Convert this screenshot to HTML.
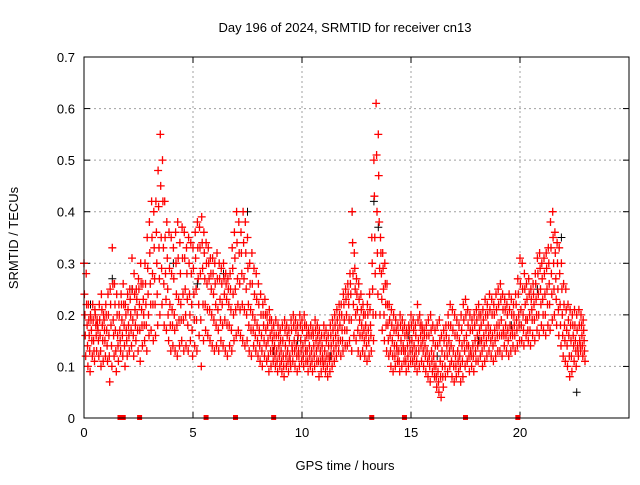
<!DOCTYPE html>
<html><head><meta charset="utf-8">
<style>
body{margin:0;background:#fff;}
svg text{font-family:"Liberation Sans",sans-serif;font-size:13px;fill:#000;}
</style></head>
<body>
<svg id="chart" width="640" height="480" xmlns="http://www.w3.org/2000/svg">
<rect width="640" height="480" fill="#fff"/>
<g id="grid"></g>
<g id="ticks"></g>
<g id="pts"></g>
<rect x="84" y="57" width="545" height="361" fill="none" stroke="#000" stroke-width="1"/>
<text x="345" y="32" text-anchor="middle">Day 196 of 2024, SRMTID for receiver cn13</text>
<text x="345" y="470" text-anchor="middle">GPS time / hours</text>
<text x="18" y="238" text-anchor="middle" transform="rotate(-90 18 238)">SRMTID / TECUs</text>
</svg>
<script>
const xTicks=[0,5,10,15,20];
const yTicks=[0,0.1,0.2,0.3,0.4,0.5,0.6,0.7];
const yTickLabels=["0","0.1","0.2","0.3","0.4","0.5","0.6","0.7"];
const hiVals=[.30,.28,.22,.20,.22,.21,.19,.22,.24,.20,
.22,.24,.25,.33,.26,.24,.22,.24,.26,.22,
.24,.25,.31,.28,.25,.27,.30,.26,.30,.35,
.38,.42,.40,.42,.48,.55,.50,.42,.38,.36,
.35,.33,.36,.38,.34,.37,.36,.33,.35,.34,
.33,.36,.38,.37,.39,.36,.34,.33,.31,.31,
.30,.32,.30,.29,.30,.28,.27,.28,.33,.36,
.40,.38,.36,.40,.38,.35,.30,.32,.29,.28,
.26,.24,.22,.23,.20,.21,.19,.18,.19,.18,
.17,.18,.19,.18,.17,.19,.20,.19,.18,.20,
.19,.20,.18,.17,.18,.17,.19,.18,.17,.16,
.18,.17,.16,.18,.19,.20,.21,.22,.22,.24,
.25,.26,.28,.40,.32,.27,.26,.24,.22,.20,
.22,.24,.35,.50,.61,.55,.35,.32,.30,.26,
.22,.21,.20,.19,.18,.20,.19,.18,.17,.18,
.20,.19,.18,.22,.20,.18,.17,.18,.19,.20,
.18,.17,.18,.19,.16,.17,.18,.20,.22,.21,
.20,.19,.18,.20,.22,.23,.21,.20,.19,.20,
.21,.22,.20,.21,.23,.22,.24,.23,.22,.24,
.25,.26,.24,.23,.22,.24,.23,.22,.24,.27,
.31,.30,.28,.26,.27,.25,.26,.28,.31,.32,
.30,.31,.32,.33,.38,.40,.36,.34,.33,.30,
.26,.25,.22,.21,.20,.21,.20,.21,.20,.19];
const uMidVals=[.24,.22,.19,.19,.19,.20,.18,.19,.21,.19,
.20,.20,.22,.26,.22,.20,.20,.22,.22,.20,
.21,.23,.25,.24,.23,.25,.26,.23,.26,.29,
.32,.35,.33,.36,.41,.45,.42,.35,.31,.29,
.28,.27,.30,.31,.28,.31,.31,.28,.30,.28,
.29,.31,.33,.33,.34,.32,.30,.30,.28,.28,
.26,.27,.27,.26,.27,.26,.25,.25,.29,.31,
.34,.32,.32,.34,.32,.29,.26,.26,.24,.23,
.22,.20,.20,.20,.18,.19,.17,.16,.16,.16,
.15,.15,.17,.16,.15,.17,.18,.17,.16,.18,
.17,.18,.16,.16,.16,.16,.17,.16,.15,.14,
.16,.15,.14,.16,.17,.18,.19,.20,.20,.22,
.23,.24,.26,.34,.29,.24,.23,.21,.20,.18,
.20,.21,.30,.43,.51,.47,.32,.29,.26,.22,
.19,.18,.17,.17,.16,.18,.17,.16,.16,.17,
.18,.17,.16,.19,.18,.17,.16,.16,.16,.17,
.15,.14,.14,.15,.13,.15,.16,.18,.18,.17,
.16,.16,.15,.17,.19,.20,.18,.17,.17,.18,
.19,.20,.18,.19,.20,.20,.21,.20,.20,.21,
.22,.23,.21,.21,.20,.21,.20,.20,.22,.24,
.26,.25,.25,.23,.24,.23,.24,.26,.28,.29,
.27,.28,.29,.30,.33,.35,.32,.30,.28,.25,
.22,.21,.19,.18,.18,.18,.17,.18,.18,.17];
const midVals=[.20,.18,.16,.17,.15,.18,.17,.16,.18,.17,
.17,.16,.18,.19,.17,.16,.17,.19,.18,.17,
.18,.20,.19,.21,.20,.22,.21,.20,.22,.24,
.26,.28,.27,.30,.33,.35,.33,.28,.25,.22,
.21,.20,.24,.23,.22,.24,.25,.23,.24,.22,
.24,.25,.27,.28,.29,.27,.26,.27,.25,.24,
.22,.21,.23,.22,.24,.23,.22,.21,.24,.25,
.27,.26,.28,.27,.25,.22,.21,.20,.19,.18,
.17,.16,.18,.17,.15,.16,.15,.14,.13,.14,
.13,.12,.14,.13,.12,.14,.15,.14,.13,.15,
.14,.15,.13,.14,.13,.14,.15,.14,.13,.12,
.13,.12,.12,.14,.15,.16,.17,.18,.17,.19,
.20,.22,.24,.28,.25,.21,.19,.18,.17,.16,
.17,.18,.25,.35,.40,.38,.28,.25,.22,.18,
.16,.15,.14,.14,.13,.15,.14,.13,.14,.15,
.15,.14,.13,.15,.16,.15,.14,.13,.12,.13,
.12,.10,.09,.11,.10,.12,.14,.15,.14,.13,
.12,.13,.12,.14,.15,.16,.14,.13,.14,.15,
.16,.17,.15,.16,.17,.18,.17,.16,.17,.18,
.18,.19,.17,.18,.17,.18,.17,.18,.19,.20,
.21,.20,.22,.19,.20,.21,.22,.23,.24,.25,
.23,.24,.25,.26,.28,.30,.27,.25,.22,.20,
.18,.17,.16,.15,.16,.15,.14,.15,.16,.15];
const lMidVals=[.16,.14,.13,.15,.13,.16,.15,.13,.15,.15,
.14,.12,.14,.16,.13,.14,.15,.16,.14,.15,
.16,.17,.16,.18,.17,.17,.18,.18,.18,.20,
.22,.22,.22,.24,.27,.29,.26,.23,.20,.18,
.18,.17,.18,.19,.19,.19,.20,.18,.20,.17,
.19,.19,.22,.19,.22,.22,.21,.21,.20,.19,
.18,.17,.19,.18,.19,.18,.18,.17,.20,.21,
.22,.21,.22,.21,.20,.18,.17,.17,.16,.15,
.14,.13,.15,.14,.12,.13,.13,.12,.11,.12,
.11,.10,.12,.11,.11,.13,.13,.12,.12,.13,
.12,.13,.11,.12,.11,.12,.13,.11,.11,.11,
.11,.10,.11,.12,.13,.14,.15,.15,.15,.17,
.17,.19,.19,.22,.20,.17,.16,.16,.15,.14,
.15,.16,.20,.28,.32,.29,.23,.20,.18,.15,
.13,.12,.12,.13,.11,.13,.13,.11,.12,.13,
.13,.12,.11,.13,.14,.13,.12,.11,.10,.11,
.10,.08,.07,.08,.08,.10,.12,.13,.11,.10,
.10,.11,.10,.11,.13,.14,.12,.12,.12,.13,
.14,.15,.13,.14,.15,.16,.15,.14,.15,.16,
.16,.16,.16,.16,.15,.16,.16,.16,.17,.18,
.18,.17,.19,.17,.17,.19,.19,.20,.20,.22,
.20,.20,.22,.22,.24,.25,.23,.21,.18,.16,
.15,.14,.12,.12,.14,.13,.13,.14,.14,.13];
const loVals=[.12,.10,.09,.12,.11,.13,.12,.10,.11,.12,
.11,.07,.10,.12,.09,.11,.13,.12,.10,.12,
.13,.14,.12,.15,.13,.11,.14,.15,.13,.16,
.17,.15,.16,.18,.20,.22,.18,.17,.15,.13,
.14,.13,.12,.14,.15,.13,.14,.13,.15,.12,
.14,.13,.16,.10,.15,.17,.16,.15,.14,.13,
.14,.13,.15,.14,.13,.12,.14,.13,.15,.16,
.17,.16,.15,.14,.15,.13,.12,.14,.13,.12,
.11,.10,.12,.11,.09,.10,.11,.10,.09,.10,
.09,.08,.10,.09,.10,.11,.10,.09,.10,.11,
.10,.11,.09,.10,.09,.10,.11,.08,.09,.10,
.09,.08,.09,.10,.11,.12,.13,.12,.13,.14,
.14,.15,.13,.16,.15,.13,.12,.13,.12,.11,
.12,.13,.15,.20,.24,.20,.17,.15,.13,.12,
.10,.09,.10,.11,.09,.10,.11,.09,.10,.11,
.11,.10,.09,.10,.11,.10,.09,.08,.07,.09,
.08,.06,.05,.04,.06,.08,.09,.10,.08,.07,
.08,.09,.07,.08,.10,.11,.09,.10,.09,.11,
.11,.12,.10,.11,.12,.13,.12,.11,.12,.13,
.13,.12,.14,.13,.12,.13,.14,.13,.14,.15,
.15,.14,.16,.15,.14,.16,.15,.17,.16,.18,
.17,.16,.18,.17,.19,.20,.18,.16,.14,.12,
.11,.10,.08,.09,.11,.10,.12,.13,.12,.11];
const blackTimes=[0.0,0.3,1.3,2.2,4.1,5.2,6.4,7.5,8.7,9.8,11.3,12.3,13.3,13.5,14.9,16.2,18.1,19.6,20.8,21.9,22.6];
const blackVals=[0.30,0.22,0.27,0.25,0.30,0.26,0.28,0.40,0.13,0.15,0.12,0.40,0.42,0.37,0.16,0.12,0.15,0.18,0.25,0.35,0.05];
const bottomMarks=[1.65,1.8,2.55,5.6,6.95,8.7,13.2,14.7,17.5,19.9];

const X0=84,X1=629,Y0=418,Y1=57,XMAX=25,YMAX=0.7;
const xs=v=>X0+v/XMAX*(X1-X0);
const ys=v=>Y0-v/YMAX*(Y0-Y1);
const NS="http://www.w3.org/2000/svg";
const grid=document.getElementById('grid'),ticks=document.getElementById('ticks'),pts=document.getElementById('pts');
function mk(tag,attrs,parent){const e=document.createElementNS(NS,tag);for(const k in attrs)e.setAttribute(k,attrs[k]);parent.appendChild(e);return e;}
yTicks.forEach((v,i)=>{
  const y=ys(v);
  if(i>0&&i<yTicks.length-1){const g=mk('line',{x1:X0,x2:X1,y1:y,y2:y,stroke:'#a0a0a0','stroke-dasharray':'2,3'},grid);
  
  }
  mk('line',{x1:X0,x2:X0+6,y1:y,y2:y,stroke:'#000'},ticks);
  mk('line',{x1:X1,x2:X1-6,y1:y,y2:y,stroke:'#000'},ticks);
  const t=mk('text',{x:X0-9,y:y+5,'text-anchor':'end'},ticks);t.textContent=yTickLabels[i];
  
  
});
xTicks.forEach(v=>{
  const x=xs(v);
  if(v>0){const g=mk('line',{x1:x,x2:x,y1:Y0,y2:Y1,stroke:'#a0a0a0','stroke-dasharray':'2,3'},grid);
  
  }
  mk('line',{x1:x,x2:x,y1:Y0,y2:Y0-6,stroke:'#000'},ticks);
  mk('line',{x1:x,x2:x,y1:Y1,y2:Y1+6,stroke:'#000'},ticks);
  const t=mk('text',{x:x,y:Y0+19,'text-anchor':'middle'},ticks);t.textContent=String(v);
  
  
});
let d='';
function plus(t,v){const x=xs(t),y=ys(v);return `M${(x-4).toFixed(1)} ${y.toFixed(1)}h8M${x.toFixed(1)} ${(y-4).toFixed(1)}v8`;}
hiVals.forEach((v,i)=>{d+=plus(i*0.1,v);});
uMidVals.forEach((v,i)=>{d+=plus(i*0.1+0.02,v);});
midVals.forEach((v,i)=>{d+=plus(i*0.1+0.04,v);});
lMidVals.forEach((v,i)=>{d+=plus(i*0.1+0.06,v);});
loVals.forEach((v,i)=>{d+=plus(i*0.1+0.08,v);});
let db='';
blackTimes.forEach((t,i)=>{db+=plus(t,blackVals[i]);});
const pb=mk('path',{d:db,stroke:'#000','stroke-width':1,fill:'none'},pts);


const pr=mk('path',{d:d,stroke:'#ff0000','stroke-width':1.3,fill:'none'},pts);


bottomMarks.forEach(t=>{
  const r=mk('rect',{x:xs(t)-2.5,y:Y0-3,width:5,height:5,fill:'#ff0000'},pts);
  
  
});
</script>
</body></html>
